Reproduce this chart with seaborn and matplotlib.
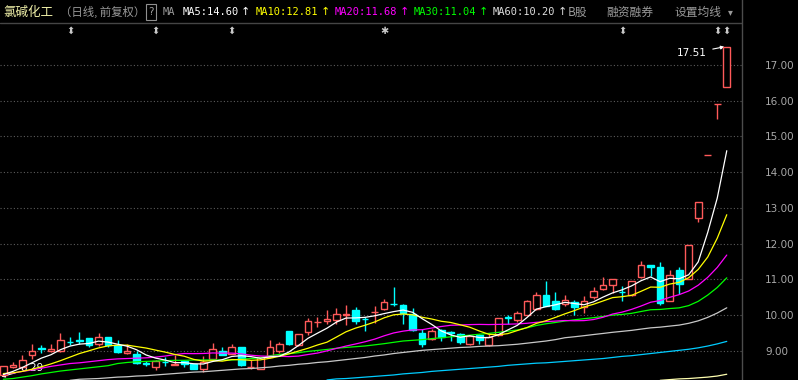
import numpy as np
import pandas as pd
import matplotlib
matplotlib.use('Agg')
import matplotlib.pyplot as plt
from matplotlib import transforms
import seaborn as sns

# 日K线 (前复权), 77 根
open_ = [8.31, 8.53, 8.55, 8.87, 9.07, 8.98, 8.98, 9.25, 9.29, 9.35,
         9.18, 9.38, 9.17, 8.94, 8.92, 8.65, 8.55, 8.69, 8.60, 8.72,
         8.62, 8.48, 8.76, 9.00, 8.92, 9.09, 8.54, 8.49, 8.81, 8.98,
         9.54, 9.17, 9.52, 9.80, 9.82, 9.86, 10.01, 10.13, 9.90, 10.07,
         10.16, 10.31, 10.28, 10.03, 9.49, 9.32, 9.58, 9.51, 9.48, 9.20,
         9.45, 9.17, 9.43, 9.93, 9.86, 10.01, 10.16, 10.56, 10.40, 10.31,
         10.37, 10.23, 10.49, 10.72, 10.83, 10.65, 10.55, 11.05, 11.39, 11.33,
         10.40, 11.26, 11.02, 12.71, 14.47, 15.92, 16.39]
high = [8.58, 8.68, 8.87, 9.18, 9.17, 9.18, 9.50, 9.37, 9.52, 9.36,
        9.50, 9.39, 9.30, 9.20, 9.00, 8.70, 8.73, 8.81, 8.87, 8.73,
        8.63, 8.85, 9.22, 9.09, 9.18, 9.10, 8.74, 8.82, 9.30, 9.25,
        9.55, 9.47, 9.91, 9.95, 10.14, 10.19, 10.29, 10.22, 9.95, 10.25,
        10.45, 10.78, 10.30, 10.19, 9.60, 9.62, 9.60, 9.56, 9.49, 9.42,
        9.46, 9.48, 9.92, 9.99, 10.12, 10.42, 10.63, 10.95, 10.64, 10.55,
        10.43, 10.53, 10.77, 11.05, 11.02, 10.81, 10.96, 11.51, 11.40, 11.48,
        11.26, 11.33, 11.96, 13.15, 14.47, 15.92, 17.51]
low = [8.29, 8.52, 8.50, 8.77, 8.94, 8.97, 8.97, 9.15, 9.18, 9.10,
       9.14, 9.10, 8.93, 8.90, 8.62, 8.57, 8.46, 8.57, 8.59, 8.53,
       8.49, 8.41, 8.75, 8.88, 8.91, 8.58, 8.48, 8.48, 8.80, 8.94,
       9.17, 9.14, 9.43, 9.65, 9.74, 9.76, 9.72, 9.76, 9.56, 9.78,
       10.15, 10.25, 9.76, 9.56, 9.09, 9.31, 9.28, 9.28, 9.19, 9.16,
       9.18, 9.12, 9.42, 9.74, 9.79, 10.00, 10.15, 10.24, 10.15, 10.26,
       9.99, 10.06, 10.45, 10.70, 10.61, 10.40, 10.52, 11.04, 11.09, 10.27,
       10.38, 10.59, 11.01, 12.61, 14.47, 15.50, 16.39]
close = [8.57, 8.59, 8.74, 9.00, 9.06, 9.04, 9.30, 9.24, 9.28, 9.15,
         9.37, 9.16, 8.95, 9.00, 8.65, 8.64, 8.72, 8.68, 8.64, 8.64,
         8.49, 8.68, 9.04, 8.89, 9.09, 8.60, 8.55, 8.81, 9.09, 9.18,
         9.18, 9.46, 9.82, 9.81, 9.88, 10.04, 10.02, 9.84, 9.89, 10.09,
         10.35, 10.30, 10.06, 9.57, 9.20, 9.55, 9.39, 9.50, 9.24, 9.41,
         9.30, 9.37, 9.91, 9.91, 10.06, 10.38, 10.56, 10.25, 10.17, 10.41,
         10.21, 10.39, 10.66, 10.83, 11.00, 10.64, 10.94, 11.39, 11.35, 10.34,
         11.11, 10.88, 11.95, 13.15, 14.47, 15.92, 17.51]

# 均线在图内开头部分 (窗口超出图左边, 从图上读出)
ma5_head = [8.33, 8.42, 8.53, 8.66]
ma10_head = [8.36, 8.38, 8.42, 8.48, 8.55, 8.63, 8.72, 8.82, 8.92]
ma20_head = [8.35, 8.37, 8.42, 8.46, 8.51, 8.56, 8.60, 8.64, 8.66, 8.69,
             8.72, 8.75, 8.77, 8.78, 8.79, 8.80, 8.82, 8.85, 8.89]
ma30_head = [8.20, 8.22, 8.26, 8.30, 8.35, 8.39, 8.43, 8.46, 8.49, 8.52,
             8.55, 8.58, 8.64, 8.67, 8.69, 8.70, 8.71, 8.72, 8.73, 8.73,
             8.74, 8.74, 8.74, 8.74, 8.74, 8.76, 8.78, 8.80, 8.86]
# MA60 from candle 7 to 58
ma60_head = [8.17, 8.20, 8.21, 8.22, 8.24, 8.26, 8.27, 8.29, 8.30, 8.32,
             8.34, 8.36, 8.38, 8.40, 8.41, 8.43, 8.45, 8.47, 8.49, 8.50,
             8.52, 8.54, 8.57, 8.59, 8.62, 8.64, 8.67, 8.69, 8.72, 8.75,
             8.78, 8.81, 8.85, 8.88, 8.92, 8.95, 8.98, 9.01, 9.03, 9.05,
             9.07, 9.09, 9.10, 9.12, 9.13, 9.14, 9.16, 9.18, 9.21, 9.24,
             9.27, 9.31]
# longer averages, only partly inside the frame
ma_cyan_start = 34
ma_cyan = [8.18, 8.21, 8.22, 8.24, 8.26, 8.28, 8.30, 8.32, 8.35, 8.37,
           8.39, 8.42, 8.44, 8.46, 8.48, 8.50, 8.52, 8.54, 8.56, 8.59,
           8.61, 8.63, 8.65, 8.66, 8.68, 8.70, 8.72, 8.74, 8.76, 8.78,
           8.81, 8.84, 8.86, 8.89, 8.92, 8.95, 8.98, 9.01, 9.04, 9.08,
           9.13, 9.19, 9.26]
ma_pale_start = 69
ma_pale = [8.17, 8.19, 8.21, 8.22, 8.24, 8.26, 8.29, 8.34]

price_ticks = [9, 10, 11, 12, 13, 14, 15, 16, 17]
marker_idx = [7, 16, 24, 40, 65, 75, 76]
marker_sym = ['⬍', '⬍', '⬍', '✱', '⬍', '⬍', '⬍']

RED = '#ff5a5a'
CYAN = '#00ffff'

sns.set_theme(style='dark', rc={'axes.facecolor': 'black', 'figure.facecolor': 'black'})
plt.rcParams['font.family'] = ['DejaVu Sans']
CJK = ['Noto Sans CJK SC', 'DejaVu Sans']

o = np.array(open_); h = np.array(high); l = np.array(low); c = np.array(close)
n = len(c)
idx = np.arange(n)


def moving(head, win, start=0):
    s = pd.Series(c).rolling(win).mean().to_numpy()
    s[:start] = np.nan
    s[start:start + len(head)] = head
    return s


ma5 = moving(ma5_head, 5)
ma10 = moving(ma10_head, 10)
ma20 = moving(ma20_head, 20)
ma30 = moving(ma30_head, 30)
ma60 = moving(ma60_head, 60, start=7)

fig = plt.figure(figsize=(7.98, 3.80), dpi=100, facecolor='black')
ax = fig.add_axes([0, 0, 742 / 798, 1])
ax.set_facecolor('black')
ax.set_xlim(-0.35, 77.6)
ax.set_ylim(8.179, 18.82)

# grid + right price axis
ax.set_yticks(price_ticks)
ax.set_yticklabels(['%.2f' % t for t in price_ticks])
ax.yaxis.tick_right()
ax.tick_params(axis='y', length=0, pad=16.5, labelsize=7.5, labelcolor='#a8a8a8')
ax.set_xticks([])
ax.grid(axis='y', color='#5c5c5c', linestyle=(0, (1, 2)), linewidth=0.8)
ax.grid(axis='x', visible=False)
for side in ['left', 'top', 'bottom']:
    ax.spines[side].set_visible(False)
ax.spines['right'].set_color('#4c4c4c')
ax.spines['right'].set_linewidth(1.0)
ax.axhline(18.176, color='#454545', lw=1.0)

# candles
up = c >= o
cols = np.where(up, RED, CYAN)
lo_b = np.minimum(o, c)
hi_b = np.maximum(o, c)
ax.vlines(idx, l, lo_b, colors=cols, lw=1.0, zorder=3)
ax.vlines(idx, hi_b, h, colors=cols, lw=1.0, zorder=3)
ax.bar(idx[up], (hi_b - lo_b)[up], bottom=lo_b[up], width=0.7,
       facecolor='black', edgecolor=RED, linewidth=1.0, zorder=4)
ax.bar(idx[~up], (hi_b - lo_b)[~up], bottom=lo_b[~up], width=0.7,
       facecolor=CYAN, edgecolor=CYAN, linewidth=1.0, zorder=4)

# moving averages
lines = [(idx, ma60, '#c8c8c8'),
         (idx[ma_cyan_start:ma_cyan_start + len(ma_cyan)], ma_cyan, '#00ccff'),
         (idx[ma_pale_start:ma_pale_start + len(ma_pale)], ma_pale, '#ffffb0'),
         (idx, ma30, '#00ff00'),
         (idx, ma20, '#ff00ff'),
         (idx, ma10, '#ffff00'),
         (idx, ma5, '#ffffff')]
for xs, ys, col in lines:
    sns.lineplot(x=xs, y=ys, color=col, linewidth=0.9, ax=ax, legend=False, zorder=5)
ax.set_xlabel('')
ax.set_ylabel('')

# max / min labels
ax.annotate('17.51', xy=(75.75, 17.51), xytext=(73.9, 17.33), color='white',
            fontsize=7.5, ha='right', va='center',
            arrowprops=dict(arrowstyle='-|>', color='white', lw=0.8,
                            mutation_scale=5, shrinkA=2, shrinkB=0))
ax.annotate('8.29', xy=(-0.2, 8.27), xytext=(1.75, 8.51), color='white',
            fontsize=7.5, ha='left', va='center',
            arrowprops=dict(arrowstyle='-|>', color='white', lw=0.8,
                            mutation_scale=5, shrinkA=1, shrinkB=0))

# info markers under header
trans = transforms.blended_transform_factory(ax.transData, ax.transAxes)
for i, s in zip(marker_idx, marker_sym):
    ax.text(i, 1 - 31 / 380, s, transform=trans, ha='center', va='center',
            color='#c8c8c8', fontsize=7)

# header
Y = 1 - 12 / 380
def head(px, s, col, size=7.5, fam=None, ha='left'):
    fig.text(px / 798, Y, s, color=col, fontsize=size, ha=ha, va='center',
             family=fam or ['DejaVu Sans Mono'])

head(3, '氯碱化工', '#f0f0a8', 9, CJK)
head(60, '（日线, 前复权）', '#9a9a9a', 8.2, CJK)
fig.text(151 / 798, Y, '?', color='#a0a0a0', fontsize=7.5, ha='center', va='center',
         bbox=dict(boxstyle='square,pad=0.25', fc='none', ec='#909090', lw=0.8))
head(163, 'MA', '#9a9a9a')
head(183, 'MA5:14.60', '#ffffff')
head(245, '↑', '#ffffff', 8, ['DejaVu Sans'], 'center')
head(256, 'MA10:12.81', '#ffff00')
head(325, '↑', '#ffff00', 8, ['DejaVu Sans'], 'center')
head(335, 'MA20:11.68', '#ff00ff')
head(404, '↑', '#ff00ff', 8, ['DejaVu Sans'], 'center')
head(414, 'MA30:11.04', '#00ff00')
head(483, '↑', '#00ff00', 8, ['DejaVu Sans'], 'center')
head(493, 'MA60:10.20', '#dddddd')
head(562, '↑', '#dddddd', 8, ['DejaVu Sans'], 'center')
head(568, 'B股', '#9a9a9a', 8.5, CJK)
head(606, '融资融券', '#9a9a9a', 8.5, CJK)
head(675, '设置均线', '#9a9a9a', 8.5, CJK)
head(730, '▾', '#9a9a9a', 7, ['DejaVu Sans'], 'center')

fig.savefig('out.png', dpi=100, facecolor='black')
